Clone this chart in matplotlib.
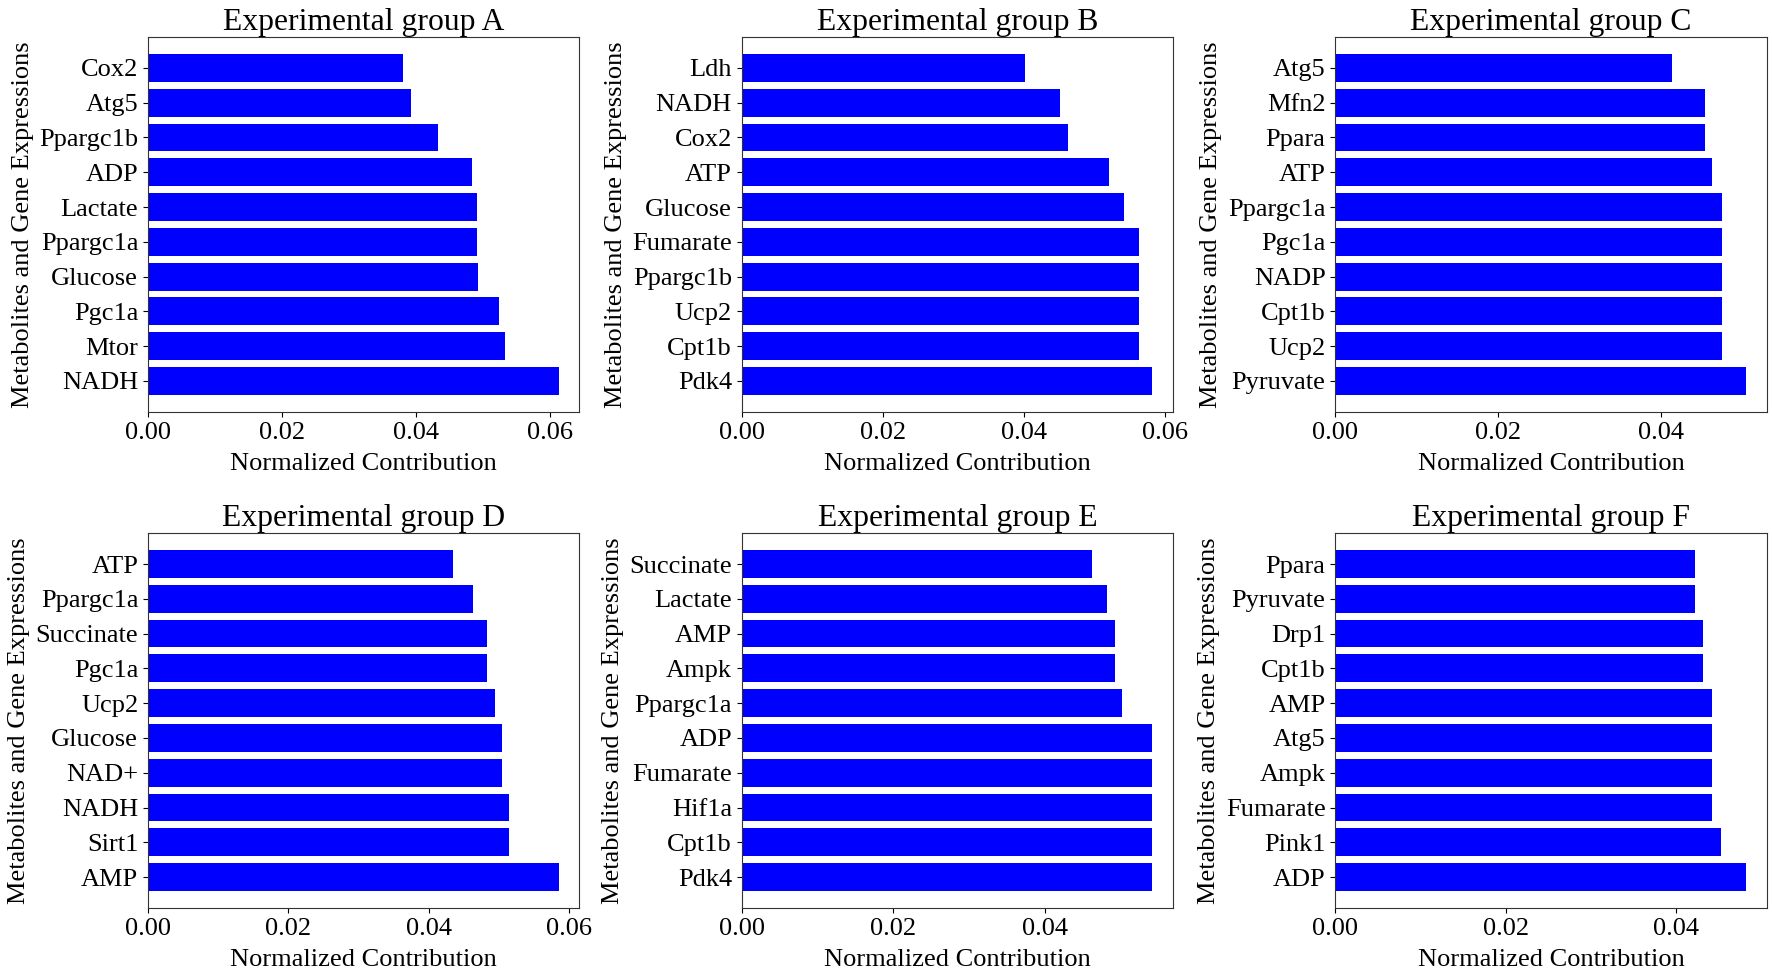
import matplotlib
matplotlib.use("Agg")
import matplotlib.pyplot as plt
from matplotlib.ticker import MultipleLocator, FormatStrFormatter

plt.rcParams['font.family'] = ['Liberation Serif', 'DejaVu Serif']

# each group listed bottom bar first (largest contribution)
names_a = ['NADH', 'Mtor', 'Pgc1a', 'Glucose', 'Ppargc1a', 'Lactate', 'ADP', 'Ppargc1b', 'Atg5', 'Cox2']
vals_a = [0.0613, 0.0533, 0.0523, 0.0492, 0.0491, 0.0491, 0.0484, 0.0433, 0.0393, 0.0381]

names_b = ['Pdk4', 'Cpt1b', 'Ucp2', 'Ppargc1b', 'Fumarate', 'Glucose', 'ATP', 'Cox2', 'NADH', 'Ldh']
vals_b = [0.0582, 0.0563, 0.0563, 0.0563, 0.0563, 0.0542, 0.0521, 0.0462, 0.0451, 0.0402]

names_c = ['Pyruvate', 'Ucp2', 'Cpt1b', 'NADP', 'Pgc1a', 'Ppargc1a', 'ATP', 'Ppara', 'Mfn2', 'Atg5']
vals_c = [0.0504, 0.0474, 0.0474, 0.0474, 0.0474, 0.0474, 0.0462, 0.0453, 0.0453, 0.0413]

names_d = ['AMP', 'Sirt1', 'NADH', 'NAD+', 'Glucose', 'Ucp2', 'Pgc1a', 'Succinate', 'Ppargc1a', 'ATP']
vals_d = [0.0585, 0.0514, 0.0514, 0.0504, 0.0504, 0.0494, 0.0483, 0.0483, 0.0463, 0.0434]

names_e = ['Pdk4', 'Cpt1b', 'Hif1a', 'Fumarate', 'ADP', 'Ppargc1a', 'Ampk', 'AMP', 'Lactate', 'Succinate']
vals_e = [0.0542, 0.0542, 0.0542, 0.0542, 0.0542, 0.0502, 0.0492, 0.0492, 0.0482, 0.0462]

names_f = ['ADP', 'Pink1', 'Fumarate', 'Ampk', 'Atg5', 'AMP', 'Cpt1b', 'Drp1', 'Pyruvate', 'Ppara']
vals_f = [0.0482, 0.0452, 0.0442, 0.0442, 0.0442, 0.0442, 0.0431, 0.0431, 0.0422, 0.0422]

groups = ['A', 'B', 'C', 'D', 'E', 'F']
all_names = [names_a, names_b, names_c, names_d, names_e, names_f]
all_vals = [vals_a, vals_b, vals_c, vals_d, vals_e, vals_f]

fig, axes = plt.subplots(2, 3, figsize=(17.72, 9.72), dpi=100)
plt.subplots_adjust(left=0.0835, right=0.997, bottom=0.0658, top=0.962,
                    wspace=0.376, hspace=0.323)

for ax, g, names, vals in zip(axes.flat, groups, all_names, all_vals):
    ax.barh(names, vals, color='blue')
    ax.set_title(f"Experimental group {g}", fontsize=22.8, pad=4)
    ax.set_xlabel("Normalized Contribution", fontsize=19, labelpad=7)
    ax.set_ylabel("Metabolites and Gene Expressions", fontsize=19)
    ax.xaxis.set_major_locator(MultipleLocator(0.02))
    ax.xaxis.set_major_formatter(FormatStrFormatter('%.2f'))
    ax.tick_params(labelsize=19)
    for s in ax.spines.values():
        s.set_color('#333333')

plt.savefig("out.png", dpi=100)
